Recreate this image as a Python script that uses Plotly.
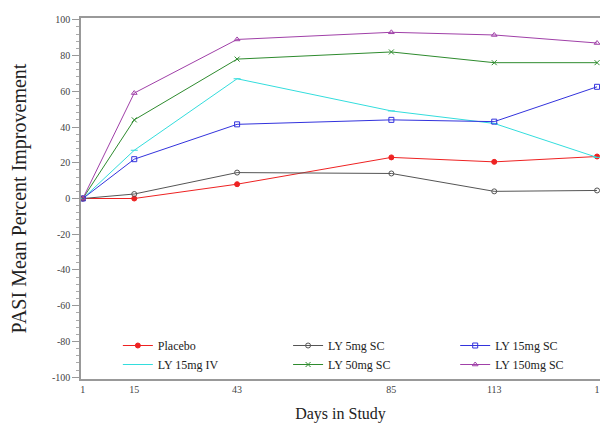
import plotly.graph_objects as go

days = [1, 15, 43, 85, 113, 141]
tick_text = ["1", "15", "43", "85", "113", "1"]
y_ticks = [-100, -80, -60, -40, -20, 0, 20, 40, 60, 80, 100]
y_tick_text = ["-100", "-80", "-60", "-40", "-20", "0", "20", "40", "60", "80", "100"]

placebo = [0, 0, 8, 23, 20.5, 23.5]
ly5_sc = [0, 2.5, 14.5, 14, 4, 4.5]
ly15_sc = [0, 22, 41.5, 44, 43, 62.5]
ly15_iv = [0, 27, 67, 49, 42, 23]
ly50_sc = [0, 44, 78, 82, 76, 76]
ly150_sc = [0, 59, 89, 93, 91.5, 87]

series = [
    ("Placebo", placebo, "#ee2222", "circle", "legend"),
    ("LY 15mg IV", ly15_iv, "#33dddd", "line-ew", "legend"),
    ("LY 5mg SC", ly5_sc, "#555555", "circle-open", "legend2"),
    ("LY 50mg SC", ly50_sc, "#2e8b2e", "x-thin-open", "legend2"),
    ("LY 15mg SC", ly15_sc, "#3333dd", "square-open", "legend3"),
    ("LY 150mg SC", ly150_sc, "#a040a8", "triangle-up-open", "legend3"),
]

fig = go.Figure()
for name, vals, color, sym, leg in series:
    fig.add_trace(go.Scatter(
        x=days, y=vals, name=name, mode="lines+markers", legend=leg,
        line=dict(color=color, width=1),
        marker=dict(symbol=sym, size=5, color=color, line=dict(color=color, width=1)),
    ))

font_family = "Liberation Serif"
leg_common = dict(
    orientation="v", y=0.0, xanchor="left", yanchor="bottom",
    font=dict(family=font_family, size=12, color="#222222"),
    bgcolor="rgba(0,0,0,0)", tracegroupgap=0, itemwidth=30,
)
fig.update_layout(
    width=602, height=436,
    margin=dict(l=81, r=2, t=18, b=57),
    paper_bgcolor="white", plot_bgcolor="white",
    font=dict(family=font_family, color="#333333"),
    showlegend=True,
    legend=dict(x=0.071, **leg_common),
    legend2=dict(x=0.399, **leg_common),
    legend3=dict(x=0.721, **leg_common),
    xaxis=dict(
        range=[0.5, 141.8], tickmode="array", tickvals=days, ticktext=tick_text,
        showgrid=False, zeroline=False, showline=True, linecolor="#999999",
        linewidth=1.5, mirror=True, ticks="", tickfont=dict(family=font_family, size=10, color="#444444"),
        title=dict(text="Days in Study", font=dict(family=font_family, size=16, color="#222222"), standoff=14),
    ),
    yaxis=dict(
        range=[-101, 101], tickmode="array", tickvals=y_ticks, ticktext=y_tick_text,
        showgrid=False, zeroline=False, showline=True, linecolor="#999999",
        linewidth=1.5, ticks="outside", ticklen=7, tickcolor="#999999",
        tickfont=dict(family=font_family, size=10, color="#444444"),
        minor=dict(tickmode="linear", tick0=-100, dtick=4, ticks="outside", ticklen=3, tickcolor="#aaaaaa"),
        title=dict(text="PASI Mean Percent Improvement", font=dict(family=font_family, size=20, color="#222222"), standoff=20),
    ),
)

fig.write_html("out.html")
